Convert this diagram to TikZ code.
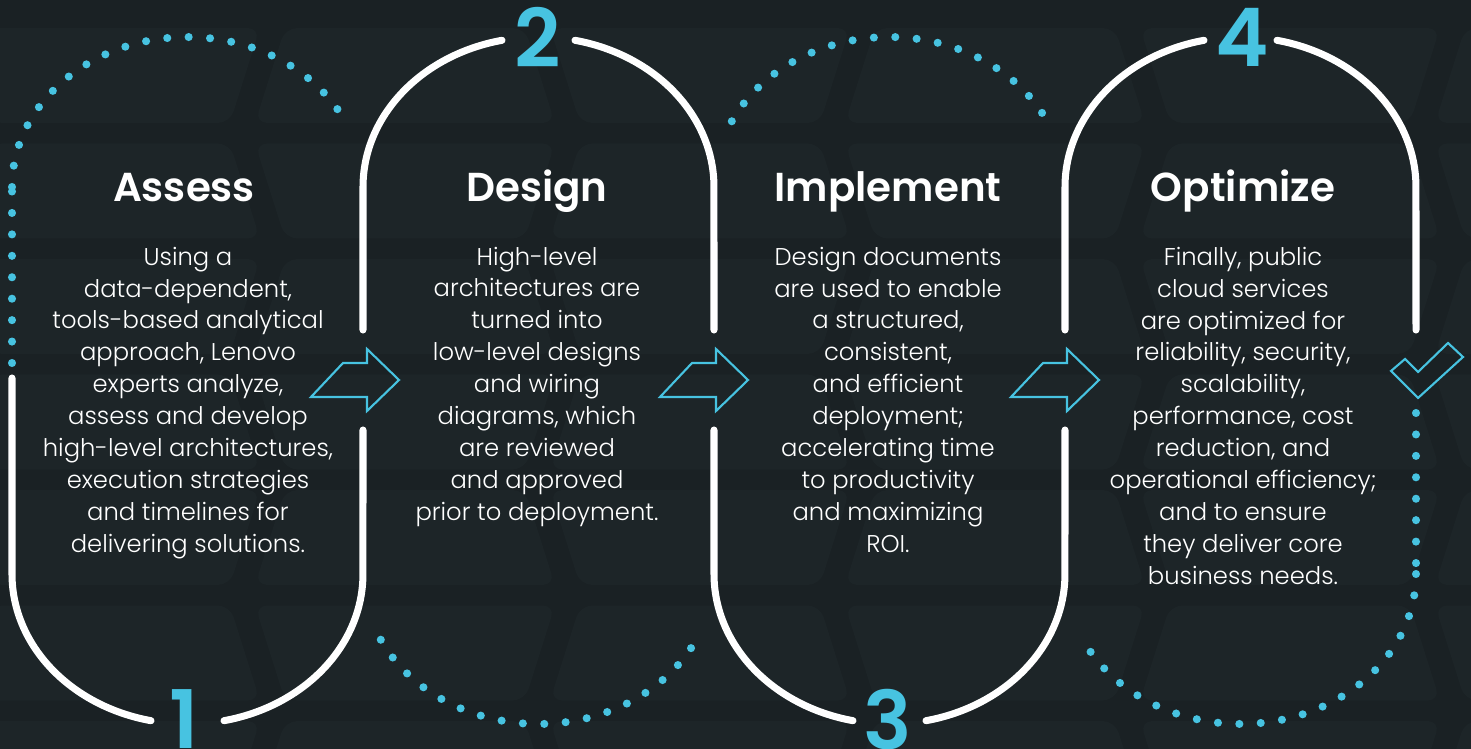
\documentclass[tikz,border=0pt]{standalone}
\usepackage{fontspec}
\setmainfont{Poppins}[UprightFont={* Light},BoldFont={* SemiBold}]
\usepackage{tikz}
\usetikzlibrary{calc}
\usetikzlibrary{positioning}
\definecolor{c_back}{HTML}{1A2124}
\definecolor{c_tile}{HTML}{1D2528}
\definecolor{c_cyan}{HTML}{47C3E1}
\def \ArcX{3.51cm}
\def \ArcY{3cm}

\begin{document}
\begin{tikzpicture}
[x=0.02cm,y=0.02cm,color=white,
 whiteline/.style={white,line width=4pt,line cap=round},
 dots/.style={c_cyan,line width=4.6pt,line cap=round,dash pattern=on 0pt off 12.2pt},
 pointer/.style={c_cyan,line width=1.2pt,line join=miter},
 title/.style={anchor=base,text=white,font=\bfseries\fontsize{23}{27}\selectfont},
 body/.style={anchor=base,align=center,text=white,inner sep=0pt,font=\fontsize{13.8}{18.14}\selectfont},
 num/.style={anchor=base,text=c_cyan,font=\bfseries\fontsize{46}{50}\selectfont}]
	\useasboundingbox (0,0) rectangle (1471,748);
	\fill[c_back] (-20,-20) rectangle (1491,768);

	% faint tiles
	\begin{scope}
		\clip (-20,-20) rectangle (1491,768);
		\foreach \r in {0,...,6}
			\foreach \c in {-1,...,3}
			{
				\pgfmathsetmacro{\top}{720-115.5*\r}
				\pgfmathsetmacro{\bot}{\top-95}
				\pgfmathsetmacro{\xa}{590*\c+mod(\r,2)*295-40}
				\fill[c_tile,rounded corners=7pt] (\xa,\top) -- (\xa+300,\top) -- (\xa+270,\bot) -- (\xa+30,\bot) -- cycle;
				\fill[c_tile,rounded corners=7pt] (\xa+325,\top) -- (\xa+565,\top) -- (\xa+595,\bot) -- (\xa+295,\bot) -- cycle;
			}
	\end{scope}

	% arc centres
	\coordinate (c1b) at (187.5,174);
	\coordinate (c1t) at (187.5,561);
	\coordinate (c2t) at (538.5,561);
	\coordinate (c2b) at (538.5,174);
	\coordinate (c3t) at (889.5,561);
	\coordinate (c3b) at (889.5,174);
	\coordinate (c4t) at (1240.5,561);
	\coordinate (c4b) at (1240.5,174);

	% white track
	\draw[whiteline] (12,370) -- (12,174) arc[start angle=180,end angle=258,x radius=\ArcX,y radius=\ArcY];
	\draw[whiteline] ($(c1b)+(282:3.51cm and 3cm)$) arc[start angle=282,end angle=360,x radius=\ArcX,y radius=\ArcY] -- (363,318);
	\draw[whiteline] (363,418) -- (363,561) arc[start angle=180,end angle=102,x radius=\ArcX,y radius=\ArcY];
	\draw[whiteline] ($(c2t)+(78:3.51cm and 3cm)$) arc[start angle=78,end angle=0,x radius=\ArcX,y radius=\ArcY] -- (714,418);
	\draw[whiteline] (714,318) -- (714,174) arc[start angle=180,end angle=258,x radius=\ArcX,y radius=\ArcY];
	\draw[whiteline] ($(c3b)+(282:3.51cm and 3cm)$) arc[start angle=282,end angle=360,x radius=\ArcX,y radius=\ArcY] -- (1065,318);
	\draw[whiteline] (1065,418) -- (1065,561) arc[start angle=180,end angle=102,x radius=\ArcX,y radius=\ArcY];
	\draw[whiteline] ($(c4t)+(78:3.51cm and 3cm)$) arc[start angle=78,end angle=0,x radius=\ArcX,y radius=\ArcY] -- (1416,418);

	% dotted track
	\draw[dots] (12,385) -- (12,561);
	\draw[dots] (12,561) arc[start angle=180,end angle=28,x radius=\ArcX,y radius=\ArcY];
	\draw[dots] ($(c2b)+(206:3.51cm and 3cm)$) arc[start angle=206,end angle=334,x radius=\ArcX,y radius=\ArcY];
	\draw[dots] ($(c3t)+(154:3.51cm and 3cm)$) arc[start angle=154,end angle=26,x radius=\ArcX,y radius=\ArcY];
	\draw[dots] (1416,335) -- (1416,174);
	\draw[dots] (1416,174) arc[start angle=360,end angle=209,x radius=\ArcX,y radius=\ArcY];

	% step numbers
	\node[num] (n1) at (184,0) {1};
	\node[num] (n2) at (538,680) {2};
	\node[num] (n3) at (888,-1) {3};
	\node[num] (n4) at (1242,681) {4};

	% arrows between steps
	\foreach \dx in {0,349,700}
		\draw[pointer,shift={(\dx,0)}] (311,351) -- (343,385) -- (367,385) -- (367,399) -- (399,368) -- (367,337) -- (367,351) -- cycle;

	% check mark
	\draw[pointer] (1391,377) -- (1405,389) -- (1418,376) -- (1448,405) -- (1463,391) -- (1418,350) -- cycle;

	% titles
	\node[title] (t1) at (184,546) {Assess};
	\node[title] (t2) at (537,546) {Design};
	\node[title] (t3) at (888,546) {Implement};
	\node[title] (t4) at (1243,546) {Optimize};

	% texts (base = last line)
	\node[body] (b1) at (188,196) {Using a\\data-dependent,\\tools-based analytical\\approach, Lenovo\\experts analyze,\\assess and develop\\high-level architectures,\\execution strategies\\and timelines for\\delivering solutions.};
	\node[body] (b2) at (537,228) {High-level\\architectures are\\turned into\\low-level designs\\and wiring\\diagrams, which\\are reviewed\\and approved\\prior to deployment.};
	\node[body] (b3) at (888,196) {Design documents\\are used to enable\\a structured,\\consistent,\\and efficient\\deployment;\\accelerating time\\to productivity\\and maximizing\\ROI.};
	\node[body] (b4) at (1243,164) {Finally, public\\cloud services\\are optimized for\\reliability, security,\\scalability,\\performance, cost\\reduction, and\\operational efficiency;\\and to ensure\\they deliver core\\business needs.};
\end{tikzpicture}
\end{document}
